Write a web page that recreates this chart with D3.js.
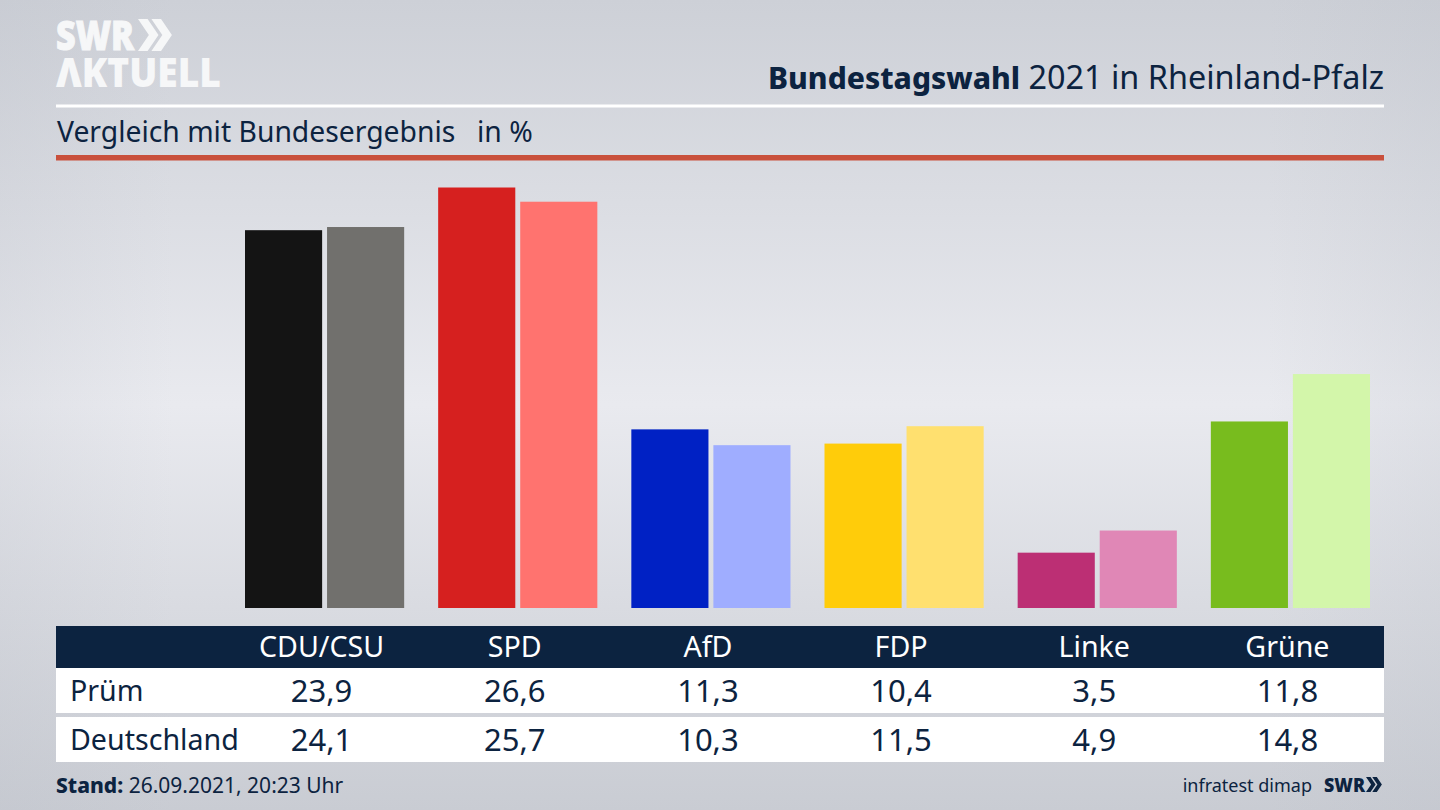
<!DOCTYPE html>
<html>
<head>
<meta charset="utf-8">
<script src="https://cdn.jsdelivr.net/npm/d3@7"></script>
<style>
html, body { margin: 0; padding: 0; overflow: hidden; }
svg { display: block; }
text { font-family: "Noto Sans", sans-serif; fill: #0c2340; }
</style>
</head>
<body>
<svg id="chart" width="1440" height="810"></svg>
<script>
// Werte
var parties = ["CDU/CSU", "SPD", "AfD", "FDP", "Linke", "Grüne"];
var regions = ["Prüm", "Deutschland"];
var pruem = [23.9, 26.6, 11.3, 10.4, 3.5, 11.8];
var deutschland = [24.1, 25.7, 10.3, 11.5, 4.9, 14.8];
var pruemColors = ["#141414", "#d6201f", "#0021c4", "#ffcc0a", "#bc2f74", "#78bc1e"];
var deutschlandColors = ["#71706d", "#ff736f", "#9fadff", "#ffe06f", "#e087b6", "#d3f6aa"];
var series = [pruem, deutschland];
var seriesColors = [pruemColors, deutschlandColors];

var fmt = function(v) { return d3.format(".1f")(v).replace(".", ","); };
var navy = "#0c2340";
var svg = d3.select("#chart");
var defs = svg.append("defs");

var bg = defs.append("linearGradient").attr("id", "bg").attr("x1", 0).attr("y1", 0).attr("x2", 0).attr("y2", 1);
bg.append("stop").attr("offset", "0%").attr("stop-color", "#cdd0d7");
bg.append("stop").attr("offset", "50%").attr("stop-color", "#e9eaef");
bg.append("stop").attr("offset", "100%").attr("stop-color", "#c9ccd3");
var side = defs.append("linearGradient").attr("id", "side").attr("x1", 0).attr("y1", 0).attr("x2", 1).attr("y2", 0);
side.append("stop").attr("offset", "0%").attr("stop-color", "#b9bdc6").attr("stop-opacity", 0.2);
side.append("stop").attr("offset", "12%").attr("stop-color", "#b9bdc6").attr("stop-opacity", 0);
side.append("stop").attr("offset", "88%").attr("stop-color", "#b9bdc6").attr("stop-opacity", 0);
side.append("stop").attr("offset", "100%").attr("stop-color", "#b9bdc6").attr("stop-opacity", 0.2);

svg.append("rect").attr("width", 1440).attr("height", 810).attr("fill", "url(#bg)");
svg.append("rect").attr("width", 1440).attr("height", 810).attr("fill", "url(#side)");

// scales
var x0 = d3.scaleBand().domain(parties).range([245, 1370]).paddingInner(0.176).paddingOuter(0);
var x1 = d3.scaleBand().domain(d3.range(series.length)).range([0, x0.bandwidth()]).paddingInner(0.06);
var y = d3.scaleLinear().domain([0, 26.6]).range([608, 187.5]);

// bars
var groups = svg.append("g").selectAll("g").data(parties).join("g")
  .attr("transform", function(d) { return "translate(" + x0(d) + ",0)"; });
groups.selectAll("rect")
  .data(function(d, i) { return series.map(function(s, k) { return { k: k, v: s[i], c: seriesColors[k][i] }; }); })
  .join("rect")
  .attr("x", function(d) { return x1(d.k); })
  .attr("y", function(d) { return y(d.v); })
  .attr("width", x1.bandwidth())
  .attr("height", function(d) { return y(0) - y(d.v); })
  .attr("fill", function(d) { return d.c; });

// logo
function chevrons(g, px, py, h, fill) {
  var tip = h * 0.34, thick = h * 0.3, step = h * 0.42;
  [0, step].forEach(function(dx) {
    var p = d3.path();
    p.moveTo(px + dx, py);
    p.lineTo(px + dx + thick, py);
    p.lineTo(px + dx + thick + tip, py + h / 2);
    p.lineTo(px + dx + thick, py + h);
    p.lineTo(px + dx, py + h);
    p.lineTo(px + dx + tip, py + h / 2);
    p.closePath();
    g.append("path").attr("d", p.toString()).attr("fill", fill);
  });
}
var logo = svg.append("g");
// beide Zeilen in einem text, das Logo ist eine Einheit
var logoText = logo.append("text")
  .style("fill", "#f6f7f8").style("font-family", "'Open Sans'").style("font-weight", 800);
logoText.append("tspan").attr("x", 56).attr("y", 50).text("SWR")
  .style("stroke", "#f6f7f8").style("stroke-width", 1).style("font-size", "40px")
  .attr("textLength", 78).attr("lengthAdjust", "spacingAndGlyphs");
logoText.append("tspan").attr("x", 56).attr("y", 87).text("ΛKTUELL")
  .style("font-size", "41px")
  .attr("textLength", 165).attr("lengthAdjust", "spacingAndGlyphs");
chevrons(logo, 138, 19, 32, "#f6f7f8");

// title
var title = svg.append("text").attr("x", 1384).attr("y", 89).attr("text-anchor", "end").style("font-size", "32.4px");
title.append("tspan").style("font-weight", 800).style("font-size", "30px").text("Bundestagswahl");
title.append("tspan").text(" 2021 in Rheinland-Pfalz");

svg.append("rect").attr("x", 56).attr("y", 104.5).attr("width", 1328).attr("height", 3).attr("fill", "#ffffff");
svg.append("text").attr("x", 57).attr("y", 142).style("font-size", "28.3px").text("Vergleich mit Bundesergebnis");
svg.append("text").attr("x", 477).attr("y", 142).style("font-size", "28.3px").text("in %");
svg.append("rect").attr("x", 56).attr("y", 155).attr("width", 1328).attr("height", 5.5).attr("fill", "#c9503c");

// table
var colX = function(d) { return x0(d) + x0.bandwidth() / 2 - 3; };
var rowY = d3.scaleOrdinal().domain(regions).range([668, 717]);
svg.append("rect").attr("x", 56).attr("y", 626).attr("width", 1328).attr("height", 42).attr("fill", "#0c2340");
svg.append("g").selectAll("text").data(parties).join("text")
  .attr("x", colX).attr("y", 657).attr("text-anchor", "middle")
  .style("fill", "#ffffff").style("font-size", "28.6px").text(function(d) { return d; });

var rows = svg.append("g").selectAll("g").data(regions).join("g");
rows.append("rect").attr("x", 56).attr("y", function(d) { return rowY(d); })
  .attr("width", 1328).attr("height", 45).attr("fill", "#ffffff");
rows.append("text").attr("x", 70).attr("y", function(d) { return rowY(d) + 33; })
  .style("font-size", "28.6px").text(function(d) { return d; });
rows.each(function(r, ri) {
  d3.select(this).selectAll("text.val").data(series[ri]).join("text").attr("class", "val")
    .attr("x", function(d, i) { return colX(parties[i]); })
    .attr("y", rowY(r) + 34).attr("text-anchor", "middle")
    .style("font-size", "31px").text(fmt);
});

// footer
var stand = svg.append("text").attr("x", 56).attr("y", 793).style("font-size", "21px");
stand.append("tspan").style("font-weight", 800).text("Stand:");
stand.append("tspan").text(" 26.09.2021, 20:23 Uhr");
svg.append("text").attr("x", 1312).attr("y", 792).attr("text-anchor", "end").style("font-size", "18px").text("infratest dimap");
svg.append("text").attr("x", 1324).attr("y", 792).text("SWR")
  .style("font-family", "'Open Sans'").style("font-weight", 800).style("font-size", "20px")
  .attr("textLength", 41).attr("lengthAdjust", "spacingAndGlyphs");
chevrons(svg.append("g"), 1366, 777, 15, navy);
</script>
</body>
</html>
